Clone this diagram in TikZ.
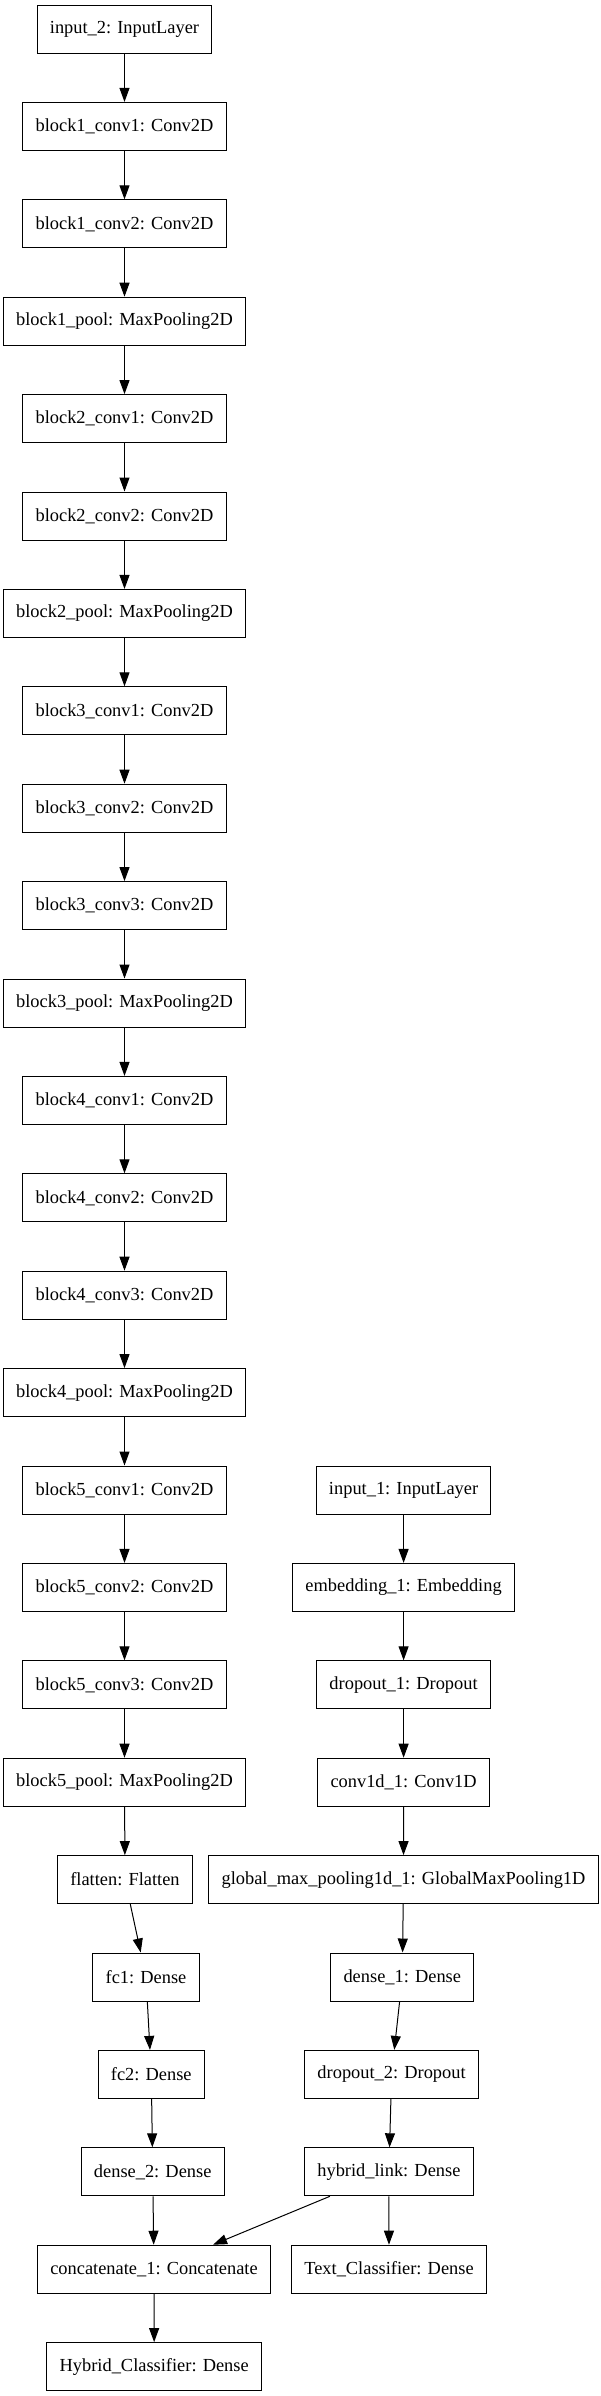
\documentclass[tikz,border=0pt]{standalone}
\usepackage{fontspec}
\setmainfont{Liberation Serif}
\usetikzlibrary{arrows.meta}
\begin{document}
\begin{tikzpicture}[x=0.75pt,y={(0pt,-0.75pt)},
    every node/.style={draw,rectangle,line width=0.75pt,minimum height=36pt,
      inner xsep=9.5pt,inner ysep=0pt,font=\fontsize{13.8pt}{16pt}\selectfont},
    link/.style={line width=0.75pt,-{Triangle[length=10.5pt,width=7.5pt]}}]
      \useasboundingbox (0,0) rectangle (600,2396);
      \draw
        (124.5,29.0) node (in2){input\_2: InputLayer}
        (124.5,126.4) node (b1c1){block1\_conv1: Conv2D}
        (124.5,223.8) node (b1c2){block1\_conv2: Conv2D}
        (124.5,321.2) node (b1p){block1\_pool: MaxPooling2D}
        (124.5,418.6) node (b2c1){block2\_conv1: Conv2D}
        (124.5,516.0) node (b2c2){block2\_conv2: Conv2D}
        (124.5,613.4) node (b2p){block2\_pool: MaxPooling2D}
        (124.5,710.8) node (b3c1){block3\_conv1: Conv2D}
        (124.5,808.2) node (b3c2){block3\_conv2: Conv2D}
        (124.5,905.6) node (b3c3){block3\_conv3: Conv2D}
        (124.5,1003.0) node (b3p){block3\_pool: MaxPooling2D}
        (124.5,1100.4) node (b4c1){block4\_conv1: Conv2D}
        (124.5,1197.8) node (b4c2){block4\_conv2: Conv2D}
        (124.5,1295.2) node (b4c3){block4\_conv3: Conv2D}
        (124.5,1392.6) node (b4p){block4\_pool: MaxPooling2D}
        (124.5,1490.0) node (b5c1){block5\_conv1: Conv2D}
        (124.5,1587.4) node (b5c2){block5\_conv2: Conv2D}
        (124.5,1684.8) node (b5c3){block5\_conv3: Conv2D}
        (124.5,1782.2) node (b5p){block5\_pool: MaxPooling2D}
        (125.0,1879.6) node (flat){flatten: Flatten}
        (146.0,1977.0) node (fc1){fc1: Dense}
        (151.3,2074.4) node (fc2){fc2: Dense}
        (152.7,2171.8) node (d2){dense\_2: Dense}
        (154.0,2269.2) node (cat){concatenate\_1: Concatenate}
        (154.2,2366.6) node (hyb){Hybrid\_Classifier: Dense}
        (403.6,1490.0) node (in1){input\_1: InputLayer}
        (403.6,1587.4) node (emb){embedding\_1: Embedding}
        (403.6,1684.8) node (drop1){dropout\_1: Dropout}
        (403.6,1782.2) node (conv){conv1d\_1: Conv1D}
        (403.5,1879.6) node (gmp){global\_max\_pooling1d\_1: GlobalMaxPooling1D}
        (402.3,1977.0) node (d1){dense\_1: Dense}
        (391.6,2074.4) node (drop2){dropout\_2: Dropout}
        (388.9,2171.8) node (hlink){hybrid\_link: Dense}
        (389.0,2269.2) node (txt){Text\_Classifier: Dense};
      \begin{scope}[link]
        \draw (in2) to (b1c1);
        \draw (b1c1) to (b1c2);
        \draw (b1c2) to (b1p);
        \draw (b1p) to (b2c1);
        \draw (b2c1) to (b2c2);
        \draw (b2c2) to (b2p);
        \draw (b2p) to (b3c1);
        \draw (b3c1) to (b3c2);
        \draw (b3c2) to (b3c3);
        \draw (b3c3) to (b3p);
        \draw (b3p) to (b4c1);
        \draw (b4c1) to (b4c2);
        \draw (b4c2) to (b4c3);
        \draw (b4c3) to (b4p);
        \draw (b4p) to (b5c1);
        \draw (b5c1) to (b5c2);
        \draw (b5c2) to (b5c3);
        \draw (b5c3) to (b5p);
        \draw (b5p) to (flat);
        \draw (flat) to (fc1);
        \draw (fc1) to (fc2);
        \draw (fc2) to (d2);
        \draw (d2) to (cat);
        \draw (cat) to (hyb);
        \draw (in1) to (emb);
        \draw (emb) to (drop1);
        \draw (drop1) to (conv);
        \draw (conv) to (gmp);
        \draw (gmp) to (d1);
        \draw (d1) to (drop2);
        \draw (drop2) to (hlink);
        \draw (hlink) to (cat);
        \draw (hlink) to (txt);
      \end{scope}
    \end{tikzpicture}
\end{document}
